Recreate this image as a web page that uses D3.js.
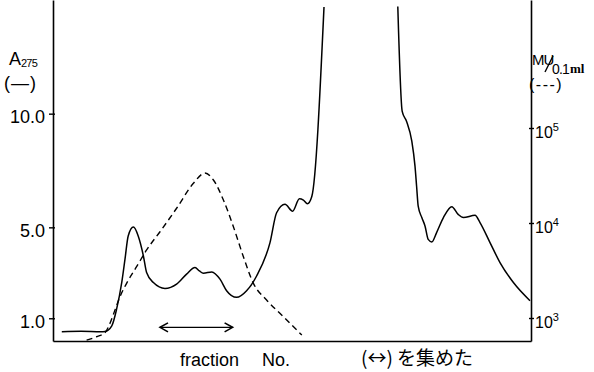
<!DOCTYPE html>
<html>
<head>
<meta charset="utf-8">
<script src="https://cdn.jsdelivr.net/npm/d3@7"></script>
<style>
body { margin: 0; background: #fff; }
text { font-family: "Liberation Sans", Arial, sans-serif; fill: #000; }
</style>
</head>
<body>
<div id="chart"></div>
<script>
// readings taken off the elution profile (fraction No. vs value)
var solidFraction = [2.2, 7, 12, 13, 14.7, 15.9, 17.2, 18, 18.8, 20.1, 21.3, 22.6, 23.4, 25.1, 28,
    30.9, 33.4, 35.5, 36.6, 37.6, 39.7, 41.75, 43.4, 45.9, 48.4, 50.9, 54.25, 55.9, 58, 59.9,
    61.6, 62.6, 63.6, 64.7, 67.75, null,
    86.2, 87.3, 88.4, 89.7, 90.5, 90.9, 91.3, 92.2, 93, 93.8, 94.7, 95.9, 97.6, 99.7, 101.3,
    102.6, 105.5, 106.75, 109.25, 111.75, 115.1, 119.25];
var solidA275 = [0.41, 0.43, 0.41, 0.42, 0.67, 1.40, 2.59, 3.60, 4.62, 5.01, 4.62, 3.74, 3.01, 2.57, 2.31,
    2.50, 2.94, 3.23, 3.08, 2.98, 3.04, 2.72, 2.21, 1.92, 2.21, 2.86, 4.33, 5.64, 6.01, 5.71,
    6.26, 6.20, 6.04, 6.36, 14.69, null,
    14.71, 10.10, 9.66, 8.79, 7.69, 6.81, 5.93, 5.43, 5.06, 4.47, 4.36, 4.77, 5.43, 5.91, 5.57,
    5.43, 5.53, 5.21, 4.33, 3.45, 2.57, 1.77];

var dashedFraction = [8.4, 10.9, 13, 14.25, 15.5, 16.75, 18.4, 20.9, 23.4, 26.75, 30.9, 35.1, 38,
    40.1, 42.6, 45.1, 47.6, 50.1, 53.4, 57.6, 62.2];
var dashedMU = [586, 635, 700, 879, 1214, 1675, 2317, 3465, 5200, 8090, 14290, 26180, 33570,
    28380, 17450, 9140, 4415, 2317, 1547, 1032, 662];

var leftTicks = [1, 5, 10];
var leftTickLabels = ["1.0", "5.0", "10.0"];
var rightTicks = [1e3, 1e4, 1e5];
var rightTickExps = ["3", "4", "5"];
var collectedRange = [26.75, 44.9];   // fractions pooled (<->)
var collectedLevel = 0.6;

var width = 594, height = 372;

var svg = d3.select("#chart").append("svg")
    .attr("width", width)
    .attr("height", height);

var x = d3.scaleLinear().domain([0, 119.5]).range([53, 531]);
var yLeft = d3.scaleLinear().domain([0, 15]).range([341, 0]);
// log axis for MU/0.1 ml, 10^3 and 10^5 pinned, then stretched to the full plot height
var yRight = d3.scaleLog().domain([1e3, 1e5]).range([318, 128]);
yRight.domain([yRight.invert(341), yRight.invert(0)]).range([341, 0]);

// axes
var leftAxis = svg.append("g")
    .attr("transform", "translate(" + x.range()[0] + ",0)")
    .call(d3.axisLeft(yLeft).tickValues(leftTicks)
        .tickFormat(function(d, i){ return leftTickLabels[i]; })
        .tickSize(4).tickPadding(4).tickSizeOuter(0));
leftAxis.selectAll("line").attr("x1", 2);
leftAxis.selectAll("text")
    .style("font-size", "18px")
    .style("font-family", "Liberation Sans, Arial, sans-serif")
    .attr("dy", "0.5em");

var rightAxis = svg.append("g")
    .attr("transform", "translate(" + x.range()[1] + ",0)")
    .call(d3.axisRight(yRight).tickValues(rightTicks)
        .tickFormat("").tickSize(3).tickPadding(1).tickSizeOuter(0));
rightAxis.selectAll("line").attr("x1", -2);
rightAxis.selectAll(".tick text").each(function(d, i){
    var t = d3.select(this)
        .attr("dy", null)
        .attr("y", 9)
        .style("font-size", "16px")
        .style("font-family", "Liberation Sans, Arial, sans-serif");
    t.append("tspan").text("10");
    t.append("tspan").attr("dy", -7).style("font-size", "11px").text(rightTickExps[i]);
});

svg.append("g")
    .attr("transform", "translate(0," + yLeft(0) + ")")
    .call(d3.axisBottom(x).tickValues([]).tickSizeOuter(0));

svg.selectAll(".domain").attr("stroke", "#000").attr("stroke-width", 1.6);
svg.selectAll(".tick line").attr("stroke", "#000").attr("stroke-width", 1.4);

// curves
var solidLine = d3.line()
    .defined(function(d){ return d[1] !== null; })
    .x(function(d){ return x(d[0]); })
    .y(function(d){ return yLeft(d[1]); })
    .curve(d3.curveMonotoneX);

var dashedLine = d3.line()
    .x(function(d){ return x(d[0]); })
    .y(function(d){ return yRight(d[1]); })
    .curve(d3.curveMonotoneX);

svg.append("path")
    .datum(d3.zip(solidFraction, solidA275))
    .attr("d", solidLine)
    .attr("fill", "none")
    .attr("stroke", "#000")
    .attr("stroke-width", 1.5);

svg.append("path")
    .datum(d3.zip(dashedFraction, dashedMU))
    .attr("d", dashedLine)
    .attr("fill", "none")
    .attr("stroke", "#000")
    .attr("stroke-width", 1.4)
    .attr("stroke-dasharray", "6,4");

// pooled fractions arrow
svg.append("defs").append("marker")
    .attr("id", "chev")
    .attr("markerUnits", "userSpaceOnUse")
    .attr("markerWidth", 12).attr("markerHeight", 12)
    .attr("viewBox", "-1 -6 12 12")
    .attr("refX", 9).attr("refY", 0)
    .attr("orient", "auto-start-reverse")
    .append("path")
    .attr("d", "M1,-4.5L9,0L1,4.5")
    .attr("fill", "none")
    .attr("stroke", "#000")
    .attr("stroke-width", 1.6);

svg.append("line")
    .attr("x1", x(collectedRange[0]))
    .attr("x2", x(collectedRange[1]))
    .attr("y1", yLeft(collectedLevel))
    .attr("y2", yLeft(collectedLevel))
    .attr("stroke", "#000")
    .attr("stroke-width", 1.3)
    .attr("marker-start", "url(#chev)")
    .attr("marker-end", "url(#chev)");

// left axis title: A275 (solid)
var aLabel = svg.append("text").attr("x", 9).attr("y", 65).style("font-size", "18px");
aLabel.append("tspan").text("A");
aLabel.append("tspan").attr("dy", 2).style("font-size", "11px").style("letter-spacing", "-0.8px").text("275");
svg.append("text").attr("x", 4).attr("y", 89).style("font-size", "18px")
    .style("letter-spacing", "1px").text("(—)");

// right axis title: MU/0.1 ml (dashed)
svg.append("text").attr("x", 532).attr("y", 65).style("font-size", "15px")
    .style("letter-spacing", "-1px").text("MU");
svg.append("line")
    .attr("x1", 553).attr("y1", 56).attr("x2", 545).attr("y2", 72)
    .attr("stroke", "#000").attr("stroke-width", 1.4);
svg.append("text").attr("x", 552).attr("y", 74).style("font-size", "14px")
    .style("letter-spacing", "-0.8px").text("0.1");
svg.append("text").attr("x", 570).attr("y", 73).style("font-size", "13px")
    .style("font-family", "Liberation Serif, serif").style("font-weight", "bold").text("ml");
svg.append("text").attr("x", 529).attr("y", 90).style("font-size", "16px")
    .style("letter-spacing", "1.5px").text("(---)");

// x axis title and note
svg.append("text").attr("x", 180).attr("y", 366).style("font-size", "18px").text("fraction");
svg.append("text").attr("x", 262).attr("y", 366).style("font-size", "18px").text("No.");
svg.append("text").attr("x", 361).attr("y", 365)
    .style("font-size", "19px")
    .style("font-family", "'Noto Sans CJK JP', sans-serif")
    .text("(↔) を集めた");
</script>
</body>
</html>
